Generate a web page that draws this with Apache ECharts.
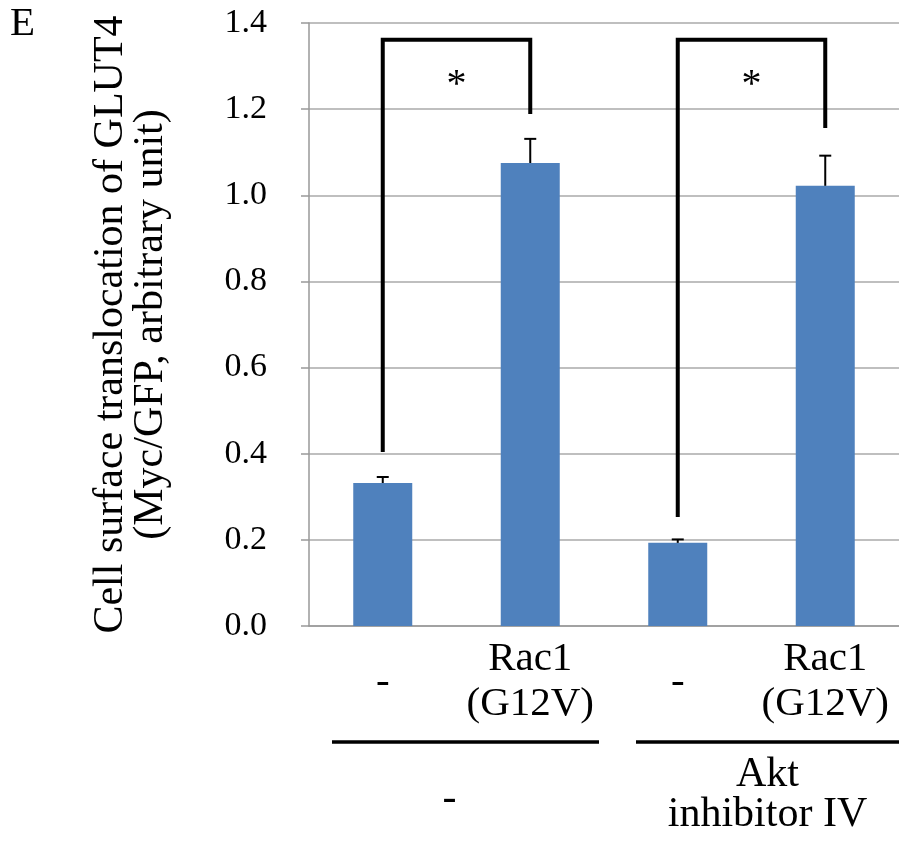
<!DOCTYPE html>
<html>
<head>
<meta charset="utf-8">
<script src="https://cdn.jsdelivr.net/npm/echarts@6/dist/echarts.min.js"></script>
<style>
  html, body { margin: 0; padding: 0; background: #fff; }
  #main { width: 899px; height: 845px; }
</style>
</head>
<body>
<div id="main"></div>
<script>
// 数据
var categories = ['-', 'Rac1\n(G12V)', '-', 'Rac1\n(G12V)'];
var groups = ['-', 'Akt\ninhibitor IV'];
var values = [0.332, 1.075, 0.193, 1.022];
var errors = [0.014, 0.056, 0.008, 0.07];
var yTicks = [0, 0.2, 0.4, 0.6, 0.8, 1.0, 1.2, 1.4];

// 显著性括号: 起点, 终点, 左端, 顶部, 右端
var bracketFrom = [0, 2];
var bracketTo = [1, 3];
var bracketLeftEnd = [0.404, 0.253];
var bracketTop = [1.361, 1.361];
var bracketRightEnd = [1.189, 1.156];

var font = '"Liberation Serif", "Times New Roman", serif';

var myChart = echarts.init(document.getElementById('main'));

var option = {
    animation: false,
    grid: { left: 309, right: -6, top: 23, bottom: 219 },
    xAxis: [{
        type: 'category',
        data: categories,
        axisLine: { lineStyle: { color: '#999', width: 1.5 } },
        axisTick: { show: false },
        axisLabel: {
            color: '#000', fontFamily: font, fontSize: 41,
            lineHeight: 45, verticalAlign: 'middle', margin: 56, interval: 0
        }
    }, {
        type: 'category',
        data: groups,
        position: 'bottom',
        axisLine: { show: false },
        axisTick: { show: false },
        axisLabel: {
            color: '#000', fontFamily: font, fontSize: 42,
            lineHeight: 40, verticalAlign: 'middle', margin: 169, interval: 0,
            formatter: function (v, i) { return i === 0 ? '{a|' + v + '}' : '{b|Akt}\n{b|inhibitor IV}'; },
            rich: {
                a: { fontFamily: font, fontSize: 42, lineHeight: 40, color: '#000', padding: [8, 14, 0, 0] },
                b: { fontFamily: font, fontSize: 42, lineHeight: 40, color: '#000', padding: [0, 0, 0, 32] }
            }
        }
    }],
    yAxis: {
        type: 'value',
        min: yTicks[0],
        max: yTicks[yTicks.length - 1],
        interval: 0.2,
        name: 'Cell surface translocation of GLUT4\n(Myc/GFP, arbitrary unit)',
        nameLocation: 'middle',
        nameRotate: 90,
        nameGap: 138,
        nameTextStyle: { color: '#000', fontFamily: font, fontSize: 42, lineHeight: 40 },
        axisLine: { show: true, lineStyle: { color: '#999', width: 1.5 } },
        axisTick: { show: true, length: 8, lineStyle: { color: '#999', width: 1.5 } },
        splitLine: { lineStyle: { color: '#aaa', width: 1.5 } },
        axisLabel: {
            color: '#000', fontFamily: font, fontSize: 34, margin: 42,
            formatter: function (v) { return v.toFixed(1); }
        }
    },
    graphic: [
        { type: 'text', left: 10, top: 4, style: { text: 'E', fontFamily: font, fontSize: 41, fill: '#000' } },
        { type: 'line', shape: { x1: 332, y1: 742, x2: 599, y2: 742 }, style: { stroke: '#000', lineWidth: 3.5 } },
        { type: 'line', shape: { x1: 636, y1: 742, x2: 905, y2: 742 }, style: { stroke: '#000', lineWidth: 3.5 } }
    ],
    series: [{
        name: 'GLUT4',
        type: 'bar',
        data: values,
        barWidth: '40%',
        itemStyle: { color: '#4f81bd' }
    }, {
        name: 'error',
        type: 'custom',
        data: values.map(function (v, i) { return [i, v, v + errors[i]]; }),
        renderItem: function (params, api) {
            var lo = api.coord([api.value(0), api.value(1)]);
            var hi = api.coord([api.value(0), api.value(2)]);
            var style = { stroke: '#000', lineWidth: 2 };
            return {
                type: 'group',
                children: [
                    { type: 'line', shape: { x1: lo[0], y1: lo[1], x2: hi[0], y2: hi[1] }, style: style },
                    { type: 'line', shape: { x1: hi[0] - 6, y1: hi[1], x2: hi[0] + 6, y2: hi[1] }, style: style }
                ]
            };
        },
        z: 5
    }, {
        name: 'bracket',
        type: 'custom',
        data: bracketFrom.map(function (f, i) {
            return [f, bracketTo[i], bracketLeftEnd[i], bracketTop[i], bracketRightEnd[i]];
        }),
        renderItem: function (params, api) {
            var a = api.coord([api.value(0), api.value(2)]);
            var b = api.coord([api.value(0), api.value(3)]);
            var c = api.coord([api.value(1), api.value(3)]);
            var d = api.coord([api.value(1), api.value(4)]);
            return {
                type: 'group',
                children: [{
                    type: 'polyline',
                    shape: { points: [a, b, c, d] },
                    style: { stroke: '#000', lineWidth: 4, fill: null, lineJoin: 'miter' }
                }, {
                    type: 'text',
                    style: {
                        x: (b[0] + c[0]) / 2, y: b[1] + 46,
                        text: '*', fontFamily: font, fontSize: 40, fill: '#000',
                        align: 'center', verticalAlign: 'middle'
                    }
                }]
            };
        },
        z: 6
    }]
};

myChart.setOption(option);
</script>
</body>
</html>
